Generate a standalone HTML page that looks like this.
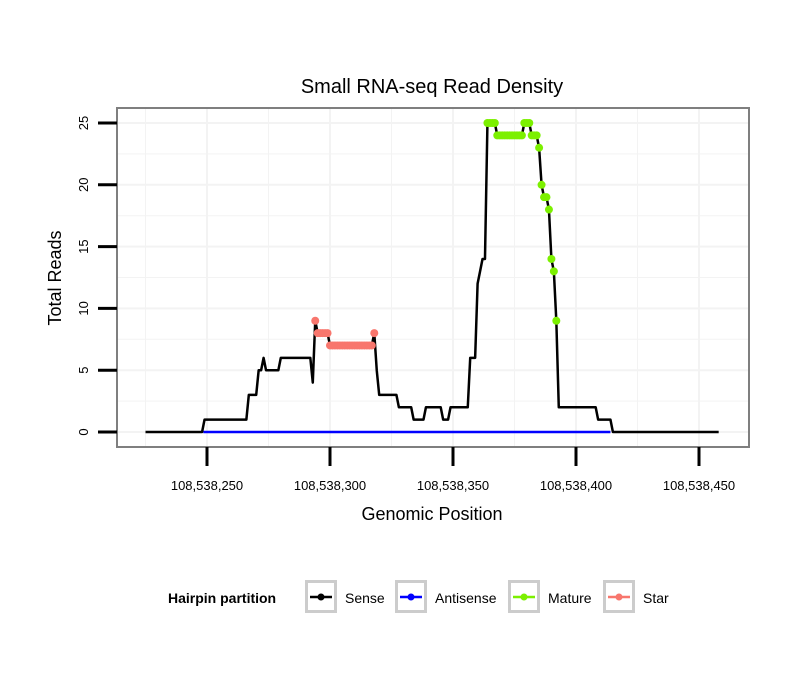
<!DOCTYPE html>
<html><head><meta charset="utf-8"><style>
body{margin:0;background:#fff;font-family:"Liberation Sans",sans-serif}
svg text{font-family:"Liberation Sans",sans-serif}
</style></head><body>
<svg width="810" height="690">
<g id="grid"></g>
<g id="lines"></g>
<rect x="117" y="108" width="632" height="339" fill="none" stroke="#7f7f7f" stroke-width="2"/>
<g id="axes"></g>
<text x="432" y="93" text-anchor="middle" font-size="20">Small RNA-seq Read Density</text>
<text x="432" y="520" text-anchor="middle" font-size="18">Genomic Position</text>
<text transform="translate(61,278) rotate(-90)" text-anchor="middle" font-size="18">Total Reads</text>
<g>
<text x="168" y="603" font-size="14" font-weight="bold">Hairpin partition</text>
<g id="legend"></g>
</g>
</svg>
<script>
const senseRuns=[[225,248,0],[249,266,1],[267,270,3],[271,272,5],[273,273,6],[274,279,5],[280,292,6],[293,293,4],[294,294,9],[295,299,8],[300,317,7],[318,318,8],[319,319,5],[320,327,3],[328,333,2],[334,338,1],[339,345,2],[346,348,1],[349,356,2],[357,359,6],[360,360,12],[361,361,13],[362,363,14],[364,367,25],[368,378,24],[379,381,25],[382,384,24],[385,385,23],[386,386,20],[387,388,19],[389,389,18],[390,390,14],[391,391,13],[392,392,9],[393,408,2],[409,414,1],[415,458,0]];
const starRange=[294,318];
const matureRange=[364,392];
const antisenseRange=[249,414];
const xTicks=[250,300,350,400,450];
const xTickLabels=["108,538,250","108,538,300","108,538,350","108,538,400","108,538,450"];
const yTicks=[0,5,10,15,20,25];
const NS="http://www.w3.org/2000/svg";
const X=p=>207+(p-250)*2.46;
const Y=v=>432-v*12.36;
function mk(t,a,parent){const e=document.createElementNS(NS,t);for(const k in a)e.setAttribute(k,a[k]);parent.appendChild(e);return e;}
const grid=document.getElementById('grid'),lines=document.getElementById('lines'),axes=document.getElementById('axes'),leg=document.getElementById('legend');
for(let v=-2.5;v<=27.5;v+=2.5){if(Y(v)<110||Y(v)>445)continue;const e=mk('line',{x1:118,x2:748,y1:Y(v),y2:Y(v),stroke:'#f3f3f3','stroke-width':v%5==0?2:1},grid);
}
for(let p=225;p<=475;p+=25){if(X(p)<118||X(p)>748)continue;const e=mk('line',{x1:X(p),x2:X(p),y1:109,y2:446,stroke:'#f3f3f3','stroke-width':p%50==0?2:1},grid);
}
const sense=[];senseRuns.forEach(r=>{for(let p=r[0];p<=r[1];p++)sense.push([p,r[2]]);});
const val=p=>{const f=sense.find(d=>d[0]===p);return f?f[1]:0;};
let e=mk('polyline',{points:`${X(antisenseRange[0]-0.5)},${Y(0)} ${X(antisenseRange[1])},${Y(0)}`,fill:'none',stroke:'#0000ff','stroke-width':2.5},lines);

e=mk('polyline',{points:sense.map(d=>X(d[0])+','+Y(d[1])).join(' '),fill:'none',stroke:'#000','stroke-width':2.5,'stroke-linejoin':'round'},lines);

function pts(range,color,name){for(let p=range[0];p<=range[1];p++){const c=mk('circle',{cx:X(p),cy:Y(val(p)),r:4,fill:color},lines);
}}
pts(starRange,'#f8766d','star-point');
pts(matureRange,'#7cf000','mature-point');
yTicks.forEach(v=>{let t=mk('line',{x1:98,x2:117,y1:Y(v),y2:Y(v),stroke:'#000','stroke-width':3},axes);

let l=mk('text',{transform:`translate(88,${Y(v)}) rotate(-90)`,'text-anchor':'middle','font-size':13},axes);l.textContent=v;
});
xTicks.forEach((p,i)=>{let t=mk('line',{x1:X(p),x2:X(p),y1:447,y2:466,stroke:'#000','stroke-width':3},axes);

let l=mk('text',{x:X(p),y:490,'text-anchor':'middle','font-size':13},axes);l.textContent=xTickLabels[i];
});
const legNames=["Sense","Antisense","Mature","Star"];
const legColors=["#000","#0000ff","#7cf000","#f8766d"];
const legX=[305,395,508,603];
legNames.forEach((n,i)=>{const x=legX[i];
let b=mk('rect',{x:x+1.5,y:581.5,width:29,height:30,fill:'#fff',stroke:'#cccccc','stroke-width':3},leg);

let l=mk('line',{x1:x+5,x2:x+27,y1:597,y2:597,stroke:legColors[i],'stroke-width':2.5},leg);

let c=mk('circle',{cx:x+16,cy:597,r:3.5,fill:legColors[i]},leg);

let t=mk('text',{x:x+40,y:603,'font-size':14},leg);t.textContent=n;
});
</script>
</body></html>
